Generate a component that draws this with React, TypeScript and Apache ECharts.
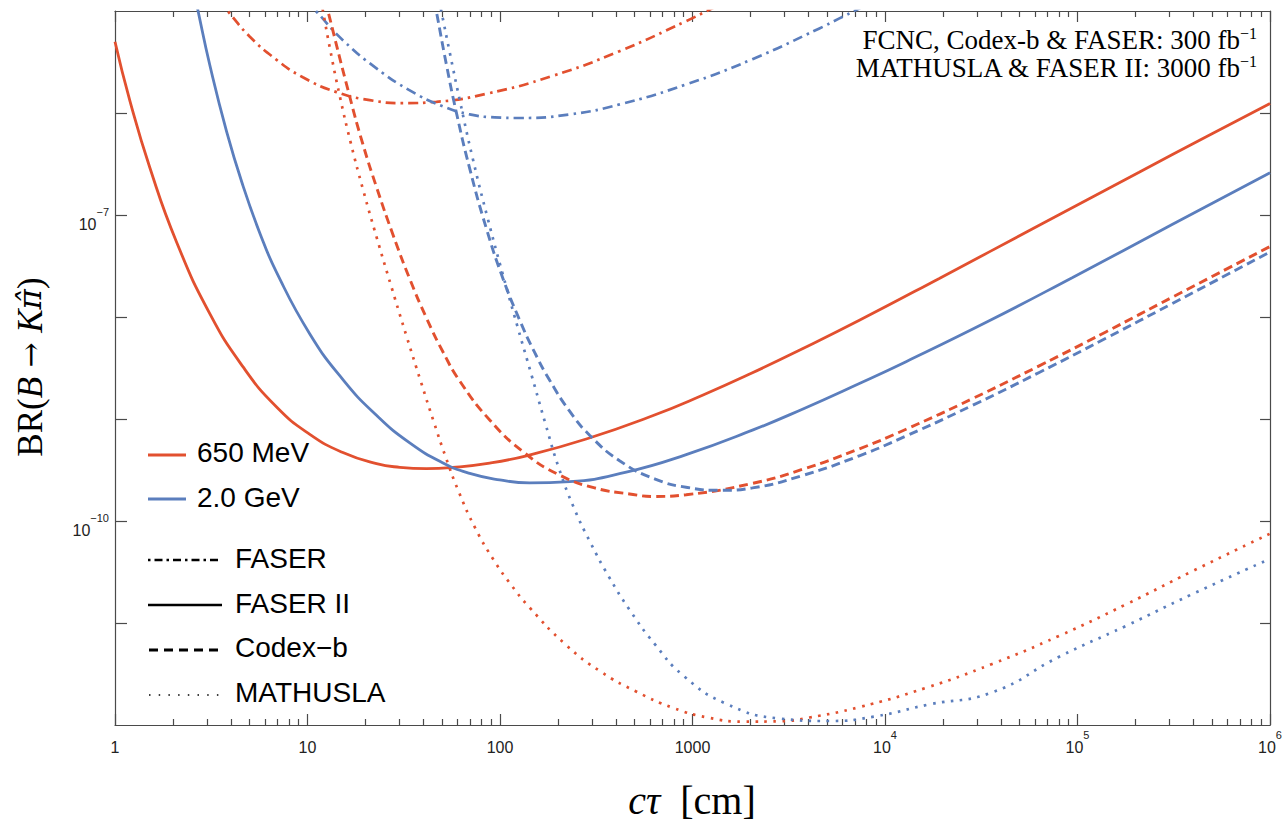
import React, { useEffect, useRef } from 'react';
import * as echarts from 'echarts';

const RED = '#E2502F';
const BLUE = '#5B7EBD';
const AXIS = '#4a4a4a';
const SANS = "'Liberation Sans', Arial, Helvetica, sans-serif";
const SERIF = "'Liberation Serif', 'Times New Roman', 'DejaVu Serif', serif";

// [cτ (cm), BR]
const faser_650: number[][] = [[3.445, 1.28e-5], [3.874, 9.84e-6], [5.02, 5.6e-6], [6.908, 3.32e-6], [9.458, 2.24e-6], [14.15, 1.602e-6], [21.06, 1.338e-6], [31.25, 1.25e-6], [46.74, 1.288e-6], [85.0, 1.543e-6], [187.6, 2.31e-6], [417.9, 4.04e-6], [927, 7.96e-6], [1178, 9.93e-6], [1556, 1.28e-5]];
const faser_2000: number[][] = [[9.81, 1.28e-5], [11.14, 9.84e-6], [15.31, 5.15e-6], [22.82, 2.74e-6], [33.97, 1.666e-6], [50.58, 1.161e-6], [69.6, 9.69e-7], [93.8, 9.06e-7], [126.5, 8.93e-7], [229.9, 9.69e-7], [417.9, 1.214e-6], [927, 1.907e-6], [2048, 3.37e-6], [4561, 6.75e-6], [5793, 8.46e-6], [7357, 1.06e-5], [9346, 1.33e-5]];
const faserII_650: number[][] = [[1, 5.0e-6], [1.196, 1.31e-6], [1.519, 2.89e-7], [2.09, 5.41e-8], [3.112, 1.075e-8], [4.616, 3.26e-9], [6.908, 1.31e-9], [10.28, 7.08e-10], [15.26, 4.69e-10], [22.82, 3.65e-10], [30.15, 3.36e-10], [41.48, 3.26e-10], [56.8, 3.35e-10], [88.4, 3.69e-10], [137.1, 4.36e-10], [280.6, 6.37e-10], [620, 1.075e-9], [1127, 1.71e-9], [2048, 2.84e-9], [3723, 4.88e-9], [7357, 9.28e-9], [19140, 2.39e-8], [63240, 7.93e-8], [208900, 2.62e-7], [463700, 5.83e-7], [1e6, 1.24e-6]];
const faserII_2000: number[][] = [[2.633, 1.28e-5], [2.706, 9.84e-6], [3.112, 2.92e-6], [3.8, 6.58e-7], [4.633, 1.91e-7], [5.656, 6.64e-8], [6.908, 2.74e-8], [10.28, 6.83e-9], [15.31, 2.42e-9], [22.82, 1.087e-9], [33.97, 5.83e-10], [50.58, 3.71e-10], [69.6, 2.93e-10], [99.6, 2.53e-10], [142.5, 2.36e-10], [229.9, 2.43e-10], [452.8, 3.01e-10], [927, 4.47e-10], [2048, 7.77e-10], [3723, 1.248e-9], [7357, 2.23e-9], [12860, 3.65e-9], [34780, 9.18e-9], [93800, 2.43e-8], [309900, 8.05e-8], [1e6, 2.6e-7]];
const codex_650: number[][] = [[12.39, 1.28e-5], [12.8, 9.84e-6], [16.59, 1.435e-6], [19.38, 4.97e-7], [22.82, 1.88e-7], [27.83, 6.37e-8], [33.97, 2.36e-8], [41.48, 9.78e-9], [50.58, 4.54e-9], [61.74, 2.36e-9], [88.4, 9.78e-10], [134.3, 4.64e-10], [204, 2.82e-10], [310, 2.11e-10], [471, 1.84e-10], [635, 1.74e-10], [927, 1.81e-10], [2048, 2.34e-10], [3723, 3.21e-10], [7357, 5.1e-10], [12860, 7.94e-10], [28400, 1.58e-9], [63240, 3.32e-9], [140300, 7.14e-9], [309900, 1.56e-8], [1e6, 4.91e-8]];
const codex_2000: number[][] = [[45.53, 1.28e-5], [46.74, 9.84e-6], [52.68, 2.975e-6], [59.35, 1.007e-6], [69.6, 2.85e-7], [85.0, 7.34e-8], [103.2, 2.43e-8], [126.5, 9.32e-9], [151.3, 4.5e-9], [181.1, 2.4e-9], [229.9, 1.193e-9], [292.1, 6.94e-10], [417.9, 3.9e-10], [635, 2.59e-10], [942, 2.13e-10], [1414, 2.0e-10], [2048, 2.11e-10], [3723, 2.79e-10], [7357, 4.36e-10], [12860, 6.81e-10], [28400, 1.357e-9], [63240, 2.86e-9], [140300, 6.18e-9], [309900, 1.353e-8], [1e6, 4.34e-8]];
const mathusla_650: number[][] = [[11.74, 1.28e-5], [12.05, 9.84e-6], [13.06, 4.35e-6], [14.72, 1.455e-6], [16.79, 5.06e-7], [19.38, 1.806e-7], [22.9, 5.98e-8], [27.4, 1.92e-8], [32.78, 6.38e-9], [38.74, 2.34e-9], [45.26, 9.41e-10], [52.24, 4.23e-10], [61.02, 1.94e-10], [74.77, 8.35e-11], [92.7, 4.15e-11], [114.9, 2.33e-11], [142.5, 1.416e-11], [219.2, 6.14e-12], [333.1, 3.34e-12], [512.1, 2.12e-12], [787.5, 1.48e-12], [1211, 1.179e-12], [1840, 1.08e-12], [2829, 1.087e-12], [4049, 1.184e-12], [7357, 1.498e-12], [16390, 2.32e-12], [36060, 3.97e-12], [80330, 7.49e-12], [178900, 1.525e-11], [393700, 3.21e-11], [1e6, 7.52e-11]];
const mathusla_2000: number[][] = [[48.22, 1.28e-5], [49.62, 9.84e-6], [54.8, 3.93e-6], [61.74, 1.344e-6], [72.13, 3.59e-7], [86.3, 9.26e-8], [103.2, 2.65e-8], [123.5, 7.94e-9], [146, 2.67e-9], [172.6, 8.84e-10], [201.6, 3.35e-10], [241.2, 1.366e-10], [295.5, 6.1e-11], [366.4, 2.88e-11], [471, 1.347e-11], [635, 6.25e-12], [898, 3.04e-12], [1483, 1.628e-12], [2829, 1.158e-12], [5140, 1.094e-12], [8803, 1.211e-12], [16980, 1.592e-12], [36060, 2.09e-12], [80330, 4.67e-12], [178200, 9.35e-12], [393700, 1.916e-11], [1e6, 4.26e-11]];

const xMajorTicks = [1, 10, 100, 1000, 1e4, 1e5, 1e6];
const xMinorTicks: number[] = [];
for (const d of [1, 10, 100, 1000, 1e4, 1e5]) for (const m of [2, 3, 4, 5, 6, 7, 8, 9]) xMinorTicks.push(m * d);
const yMajorTicks = [1e-11, 1e-10, 1e-9, 1e-8, 1e-7, 1e-6];
const yLabelTicks = [1e-10, 1e-7];

const DASHED = [9, 5];
const DASHDOT = [10, 5, 2.5, 5];
const DOTTED = [2.6, 6.4];

const curves = [
  { name: 'FASER 650 MeV', data: faser_650, color: RED, type: DASHDOT as any, width: 2.7 },
  { name: 'FASER 2.0 GeV', data: faser_2000, color: BLUE, type: DASHDOT as any, width: 2.7 },
  { name: 'FASER II 650 MeV', data: faserII_650, color: RED, type: 'solid' as any, width: 2.8 },
  { name: 'FASER II 2.0 GeV', data: faserII_2000, color: BLUE, type: 'solid' as any, width: 2.8 },
  { name: 'Codex-b 650 MeV', data: codex_650, color: RED, type: DASHED as any, width: 2.9 },
  { name: 'Codex-b 2.0 GeV', data: codex_2000, color: BLUE, type: DASHED as any, width: 2.9 },
  { name: 'MATHUSLA 650 MeV', data: mathusla_650, color: RED, type: DOTTED as any, width: 2.7 },
  { name: 'MATHUSLA 2.0 GeV', data: mathusla_2000, color: BLUE, type: DOTTED as any, width: 2.7 },
];

const tickRich = {
  b: { fontFamily: SANS, fontSize: 16, color: '#222', lineHeight: 26, verticalAlign: 'bottom' },
  s: { fontFamily: SANS, fontSize: 11, color: '#222', lineHeight: 12, verticalAlign: 'top' },
};

const xCommon: any = { type: 'log', logBase: 10, min: 1, max: 1e6, splitLine: { show: false } };
const yCommon: any = { type: 'log', logBase: 10, min: 1e-12, max: 1e-5, splitLine: { show: false } };
const lineStyleAxis = { color: AXIS, width: 1.2 };

const annRich = {
  t: { fontFamily: SERIF, fontSize: 27, color: '#111', lineHeight: 28, verticalAlign: 'bottom' },
  s: { fontFamily: SERIF, fontSize: 16, color: '#111', lineHeight: 16, verticalAlign: 'top' },
};

function legendText(text: string, x: number, y: number) {
  return {
    type: 'text', x, y, silent: true,
    style: { text, font: `28px ${SANS}`, fill: '#000', align: 'left', verticalAlign: 'middle', textAlign: 'left', textVerticalAlign: 'middle' },
  };
}

function buildOption(): any {
  return {
    animation: false,
    backgroundColor: '#ffffff',
    grid: { left: 115, top: 11, width: 1156, height: 714, containLabel: false },
    xAxis: [
      {
        ...xCommon, position: 'bottom',
        axisLine: { show: true, onZero: false, lineStyle: lineStyleAxis },
        axisTick: { show: true, inside: true, length: 11, customValues: xMajorTicks, lineStyle: lineStyleAxis },
        axisLabel: {
          show: true, customValues: xMajorTicks, margin: 4, showMinLabel: true, showMaxLabel: true, hideOverlap: false,
          formatter: (v: number) => {
            const e = Math.round(Math.log10(v));
            return e <= 3 ? `{b|${Math.round(v)}}` : `{b|10}{s|${e}}`;
          },
          rich: tickRich,
        },
      },
      {
        ...xCommon, position: 'bottom',
        axisLine: { show: false, onZero: false },
        axisTick: { show: true, inside: true, length: 6, customValues: xMinorTicks, lineStyle: lineStyleAxis },
        axisLabel: { show: false },
      },
      {
        ...xCommon, position: 'top',
        axisLine: { show: true, onZero: false, lineStyle: lineStyleAxis },
        axisTick: { show: true, inside: true, length: 11, customValues: xMajorTicks, lineStyle: lineStyleAxis },
        axisLabel: { show: false },
      },
      {
        ...xCommon, position: 'top',
        axisLine: { show: false, onZero: false },
        axisTick: { show: true, inside: true, length: 6, customValues: xMinorTicks, lineStyle: lineStyleAxis },
        axisLabel: { show: false },
      },
    ],
    yAxis: [
      {
        ...yCommon, position: 'left',
        axisLine: { show: true, onZero: false, lineStyle: lineStyleAxis },
        axisTick: { show: true, inside: true, length: 12, customValues: yMajorTicks, lineStyle: lineStyleAxis },
        axisLabel: {
          show: true, customValues: yLabelTicks, margin: 6, padding: [8, 0, 0, 0],
          formatter: (v: number) => `{b|10}{s|−${-Math.round(Math.log10(v))}}`,
          rich: tickRich,
        },
      },
      {
        ...yCommon, position: 'right',
        axisLine: { show: true, onZero: false, lineStyle: lineStyleAxis },
        axisTick: { show: true, inside: true, length: 10, customValues: yMajorTicks, lineStyle: lineStyleAxis },
        axisLabel: { show: false },
      },
    ],
    series: curves.map((c) => ({
      type: 'line', name: c.name, data: c.data, xAxisIndex: 0, yAxisIndex: 0,
      showSymbol: false, symbol: 'none', smooth: 0.5, clip: true, silent: true,
      lineStyle: { color: c.color, width: c.width, type: c.type, cap: 'butt' },
    })),
    graphic: [
      {
        type: 'text', x: 1257, y: 53, silent: true,
        style: {
          text: '{t|FCNC, Codex-b & FASER: 300 fb}{s|−1}\n{t|MATHUSLA & FASER II: 3000 fb}{s|−1}',
          align: 'right', verticalAlign: 'middle',
          textAlign: 'right', textVerticalAlign: 'middle', rich: annRich,
        },
      },
      {
        type: 'text', x: 692, y: 800, silent: true,
        style: {
          text: '{i|cτ}{r|  [cm]}', align: 'center', verticalAlign: 'middle',
          textAlign: 'center', textVerticalAlign: 'middle',
          rich: {
            i: { fontFamily: SERIF, fontStyle: 'italic', fontSize: 40, color: '#111' },
            r: { fontFamily: SERIF, fontSize: 40, color: '#111' },
          },
        },
      },
      {
        type: 'text', x: 30, y: 367, rotation: Math.PI / 2, silent: true,
        style: {
          text: '{r|BR(}{i|B}{a| → }{i|K}{h|π̂}{r|)}', align: 'center', verticalAlign: 'middle',
          textAlign: 'center', textVerticalAlign: 'middle',
          rich: {
            r: { fontFamily: SERIF, fontSize: 35, color: '#111' },
            i: { fontFamily: SERIF, fontStyle: 'italic', fontSize: 35, color: '#111' },
            a: { fontFamily: "'DejaVu Serif', serif", fontSize: 30, color: '#111' },
            h: { fontFamily: "'DejaVu Serif', serif", fontStyle: 'italic', fontSize: 31, color: '#111' },
          },
        },
      },
      { type: 'line', silent: true, shape: { x1: 148, y1: 455, x2: 186, y2: 455 }, style: { stroke: RED, lineWidth: 3.2 } },
      legendText('650 MeV', 197, 452),
      { type: 'line', silent: true, shape: { x1: 148, y1: 499, x2: 186, y2: 499 }, style: { stroke: BLUE, lineWidth: 3.2 } },
      legendText('2.0 GeV', 197, 497),
      { type: 'line', silent: true, shape: { x1: 148, y1: 560, x2: 218, y2: 560 }, style: { stroke: '#000', lineWidth: 2.6, lineDash: [2.5, 4, 8, 4] } },
      legendText('FASER', 235, 558),
      { type: 'line', silent: true, shape: { x1: 148, y1: 605, x2: 222, y2: 605 }, style: { stroke: '#000', lineWidth: 2.6 } },
      legendText('FASER II', 235, 603),
      { type: 'line', silent: true, shape: { x1: 149, y1: 650, x2: 219, y2: 650 }, style: { stroke: '#000', lineWidth: 2.8, lineDash: [9, 6] } },
      legendText('Codex−b', 235, 647),
      { type: 'line', silent: true, shape: { x1: 149, y1: 695, x2: 219, y2: 695 }, style: { stroke: '#000', lineWidth: 1.6, lineDash: [1.5, 8.2] } },
      legendText('MATHUSLA', 235, 692),
    ],
  };
}

export default function App() {
  const ref = useRef<HTMLDivElement>(null);
  useEffect(() => {
    if (!ref.current) return;
    const chart = echarts.init(ref.current, null, { renderer: 'svg' });
    chart.setOption(buildOption());
    return () => chart.dispose();
  }, []);
  return (
    <div
      ref={ref}
      style={{ position: 'fixed', left: 0, top: 0, width: 1285, height: 825, background: '#ffffff' }}
    />
  );
}
